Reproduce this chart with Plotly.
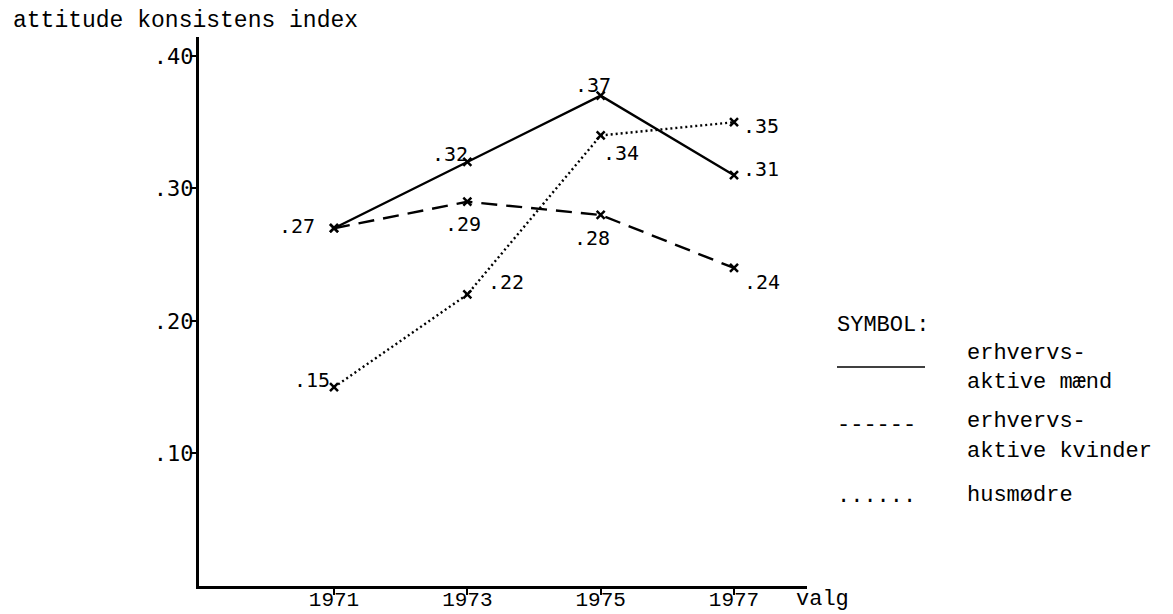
import plotly.graph_objects as go

years = [1971, 1973, 1975, 1977]
maend = [0.27, 0.32, 0.37, 0.31]
kvinder = [0.27, 0.29, 0.28, 0.24]
husmodre = [0.15, 0.22, 0.34, 0.35]
y_ticks = [0.10, 0.20, 0.30, 0.40]
y_ticktext = [".10", ".20", ".30", ".40"]
x_ticktext = ["1971", "1973", "1975", "1977"]

W, H = 1173, 614
L, R, T, B = 199, 807, 37, 586

def px(x):
    return (x - L) / (R - L)

def py(y):
    return (B - y) / (B - T)

MONO = "Liberation Mono"
SMONO = "DejaVu Sans Mono"

marker = dict(symbol="x-thin", size=8, color="black", line=dict(width=2.5, color="black"))

fig = go.Figure()
fig.add_trace(go.Scatter(x=years, y=maend, mode="lines+markers",
                         line=dict(color="black", width=2.4),
                         marker=marker, showlegend=False, hoverinfo="skip"))
fig.add_trace(go.Scatter(x=years, y=kvinder, mode="lines+markers",
                         line=dict(color="black", width=2.4, dash="16px,9px"),
                         marker=marker, showlegend=False, hoverinfo="skip"))
fig.add_trace(go.Scatter(x=years, y=husmodre, mode="lines+markers",
                         line=dict(color="black", width=2.4, dash="2px,3px"),
                         marker=marker, showlegend=False, hoverinfo="skip"))

def lab(v):
    return "." + f"{int(round(v * 100)):02d}"

# label offsets (xshift, yshift) of label centre from its point
maend_off = [(-37, 2), (-17, 8), (-8, 11), (27, 6)]
kvinder_off = [None, (-4, -22), (-9, -23), (28, -14)]
husmodre_off = [(-22, 7), (39, 12), (20, -18), (27, -4)]

annotations = []
for series, offs in [(maend, maend_off), (kvinder, kvinder_off), (husmodre, husmodre_off)]:
    for x, v, o in zip(years, series, offs):
        if o is None:
            continue
        annotations.append(dict(x=x, y=v, xref="x", yref="y", text=lab(v),
                                showarrow=False, xanchor="center", yanchor="middle",
                                xshift=o[0], yshift=o[1],
                                font=dict(family=SMONO, size=20, color="black")))

annotations.append(dict(x=px(11), y=py(21), xref="paper", yref="paper",
                        text="attitude konsistens index", showarrow=False,
                        xanchor="left", yanchor="middle",
                        font=dict(family=MONO, size=23, color="black")))
annotations.append(dict(x=px(794), y=py(599), xref="paper", yref="paper",
                        text="valg", showarrow=False, xanchor="left", yanchor="middle",
                        font=dict(family=MONO, size=22, color="black")))

legend_items = [
    ("SYMBOL:", 835, 325),
    ("erhvervs-", 965, 353),
    ("aktive mænd", 965, 382),
    ("------", 835, 425),
    ("erhvervs-", 965, 421),
    ("aktive kvinder", 965, 451),
    ("......", 835, 496),
    ("husmødre", 965, 495),
]
for txt, x, y in legend_items:
    annotations.append(dict(x=px(x), y=py(y), xref="paper", yref="paper",
                            text=txt, showarrow=False, xanchor="left", yanchor="middle",
                            font=dict(family=MONO, size=22, color="black")))

shapes = [dict(type="line", xref="paper", yref="paper",
               x0=px(837), x1=px(925), y0=py(367), y1=py(367),
               line=dict(color="black", width=1.5))]

fig.update_layout(
    width=W, height=H,
    margin=dict(l=L, r=W - R, t=T, b=H - B, pad=0, autoexpand=False),
    paper_bgcolor="white", plot_bgcolor="white",
    annotations=annotations, shapes=shapes,
    xaxis=dict(range=[1968.975, 1978.095], tickvals=years, ticktext=x_ticktext,
               automargin=False, ticklabelstandoff=-14,
               showgrid=False, zeroline=False, showline=True, linecolor="black",
               linewidth=3, ticks="outside", ticklen=6, tickwidth=2, tickcolor="black",
               tickfont=dict(family=MONO, size=21, color="black")),
    yaxis=dict(range=[0, 0.4143], tickvals=y_ticks, ticktext=y_ticktext,
               automargin=False, ticklabelstandoff=-8,
               showgrid=False, zeroline=False, showline=True, linecolor="black",
               linewidth=3, ticks="outside", ticklen=6, tickwidth=2, tickcolor="black",
               tickfont=dict(family=SMONO, size=22, color="black")),
)

fig.write_html("out.html", config={"displayModeBar": False},
               post_script="document.body.style.margin='0px';document.body.style.padding='0px';")
